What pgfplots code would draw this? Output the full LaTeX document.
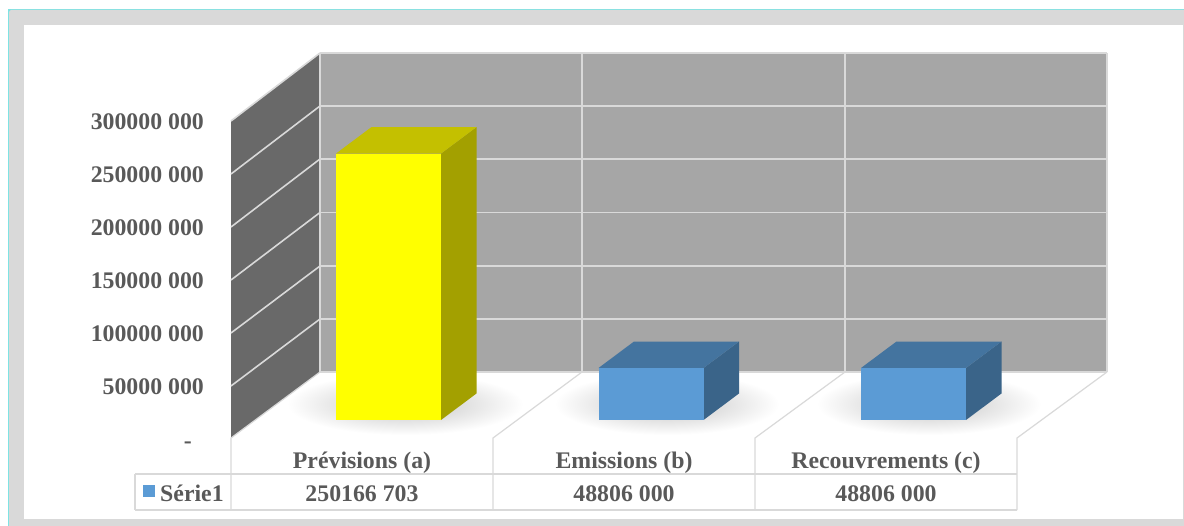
\documentclass[border=0pt]{standalone}
\usepackage{pgfplots}
\pgfplotsset{compat=1.18}
\usepackage{fontspec}
\setmainfont{Liberation Serif}
\definecolor{labelgrey}{HTML}{595959}
\definecolor{rule}{HTML}{D9D9D9}
\definecolor{backwall}{HTML}{A6A6A6}
\definecolor{sidewall}{HTML}{696969}
\definecolor{frameteal}{HTML}{7FE3E3}
\definecolor{yfront}{HTML}{FFFF00}
\definecolor{ytop}{HTML}{C4C000}
\definecolor{yside}{HTML}{A3A000}
\definecolor{bfront}{HTML}{5B9BD5}
\definecolor{btop}{HTML}{44749F}
\definecolor{bside}{HTML}{3A6489}
\pgfplotsset{
  canvas/.style={
    width=1184pt, height=526pt, scale only axis, axis lines=none,
    at={(0pt,0pt)}, anchor=south west, clip=false,
    xmin=0, xmax=1184
  },
  gridline/.style={rule, line width=1.6pt},
  floorline/.style={rule, line width=1.2pt},
  frontface/.style={ybar, bar width=105, bar shift=0pt, draw=none}
}
\tikzset{lab/.style={font=\fontsize{23.8}{26}\selectfont\bfseries, text=labelgrey, inner sep=0pt}}
\begin{document}
\begin{tikzpicture}
\useasboundingbox (0pt,0pt) rectangle (1184pt,526pt);
% Frame, walls, floor and the data table, in picture units with y pointing down
\begin{axis}[canvas, ymin=0, ymax=526, y dir=reverse]
  \addplot[fill=white, draw=none] coordinates {(0,0) (1184,0) (1184,526) (0,526)} -- cycle;
  \addplot[fill=frameteal, draw=none] coordinates {(8,9) (1184,9) (1184,526) (8,526)} -- cycle;
  \addplot[fill=rule, draw=none] coordinates {(11,10) (1184,10) (1184,526) (9,526) (9,12)} -- cycle;
  \addplot[fill=white, draw=none] coordinates {(24,25) (1183,25) (1183,519) (24,519)} -- cycle;
  % contact shadows on the floor
  \shade[inner color=black!24, outer color=white, draw=none] (axis cs:405,404) ellipse [x radius=118pt, y radius=31pt];
  \shade[inner color=black!24, outer color=white, draw=none] (axis cs:667,404) ellipse [x radius=112pt, y radius=31pt];
  \shade[inner color=black!24, outer color=white, draw=none] (axis cs:929,404) ellipse [x radius=112pt, y radius=31pt];
  % back and side walls
  \addplot[fill=backwall, draw=none] coordinates {(320,53) (1107,53) (1107,372) (320,372)} -- cycle;
  \addplot[fill=sidewall, draw=none] coordinates {(231,121) (320,53) (320,372) (231,438)} -- cycle;
  % gridlines on the back wall
  \addplot[gridline] coordinates {(320,53) (1107,53)};
  \addplot[gridline] coordinates {(320,106) (1107,106)};
  \addplot[gridline] coordinates {(320,159) (1107,159)};
  \addplot[gridline] coordinates {(320,212.5) (1107,212.5)};
  \addplot[gridline] coordinates {(320,266) (1107,266)};
  \addplot[gridline] coordinates {(320,319) (1107,319)};
  \addplot[gridline] coordinates {(320,372) (1107,372)};
  \addplot[gridline] coordinates {(320,53) (320,372)};
  \addplot[gridline] coordinates {(582,53) (582,372)};
  \addplot[gridline] coordinates {(845,53) (845,372)};
  \addplot[gridline] coordinates {(1107,53) (1107,372)};
  % gridlines on the side wall
  \addplot[gridline] coordinates {(231,121) (320,53)};
  \addplot[gridline] coordinates {(231,174) (320,106)};
  \addplot[gridline] coordinates {(231,227) (320,159)};
  \addplot[gridline] coordinates {(231,280) (320,212.5)};
  \addplot[gridline] coordinates {(231,333) (320,266)};
  \addplot[gridline] coordinates {(231,386) (320,319)};
  % floor divisions and table
  \addplot[floorline] coordinates {(320,372) (231,438) (231,510)};
  \addplot[floorline] coordinates {(582,372) (493,438) (493,510)};
  \addplot[floorline] coordinates {(845,372) (755,438) (755,510)};
  \addplot[floorline] coordinates {(1107,372) (1017,438) (1017,510)};
  \addplot[floorline] coordinates {(135,474) (1017,474)};
  \addplot[floorline] coordinates {(135,510) (1017,510)};
  \addplot[floorline] coordinates {(135,474) (135,510)};
  % value axis labels
  \node[lab, anchor=base east] at (axis cs:204,130) {300000 000};
  \node[lab, anchor=base east] at (axis cs:204,183) {250000 000};
  \node[lab, anchor=base east] at (axis cs:204,236) {200000 000};
  \node[lab, anchor=base east] at (axis cs:204,289) {150000 000};
  \node[lab, anchor=base east] at (axis cs:204,342) {100000 000};
  \node[lab, anchor=base east] at (axis cs:204,395) {50000 000};
  \node[lab, anchor=base east] at (axis cs:192,449) {-};
  % table text
  \node[lab, anchor=base] at (axis cs:362,469) {Prévisions (a)};
  \node[lab, anchor=base] at (axis cs:624,469) {Emissions (b)};
  \node[lab, anchor=base] at (axis cs:886,469) {Recouvrements (c)};
  \node[lab, anchor=base] at (axis cs:362,501) {250166 703};
  \node[lab, anchor=base] at (axis cs:624,501) {48806 000};
  \node[lab, anchor=base] at (axis cs:886,501) {48806 000};
  \node[lab, anchor=base west] at (axis cs:160,501) {Série1};
  \addplot[fill=bfront, draw=none] coordinates {(143,485) (155,485) (155,497) (143,497)} -- cycle;
\end{axis}
% The bars, on a value scale sharing the same canvas (26.5 px of depth = 24883000 units)
\begin{axis}[canvas, ymin=-99530000, ymax=394370000]
  \addplot[fill=yside, draw=none] coordinates {(441,0) (476.5,24883000) (476.5,275049703) (441,250166703)} -- cycle;
  \addplot[fill=ytop, draw=none] coordinates {(336,250166703) (441,250166703) (476.5,275049703) (371.5,275049703)} -- cycle;
  \addplot[frontface, fill=yfront] coordinates {(388.5,250166703)};
  \addplot[fill=bside, draw=none] coordinates {(703.5,0) (739,24883000) (739,73689000) (703.5,48806000)} -- cycle;
  \addplot[fill=btop, draw=none] coordinates {(598.5,48806000) (703.5,48806000) (739,73689000) (634,73689000)} -- cycle;
  \addplot[frontface, fill=bfront] coordinates {(651,48806000)};
  \addplot[fill=bside, draw=none] coordinates {(966,0) (1001.5,24883000) (1001.5,73689000) (966,48806000)} -- cycle;
  \addplot[fill=btop, draw=none] coordinates {(861,48806000) (966,48806000) (1001.5,73689000) (896.5,73689000)} -- cycle;
  \addplot[frontface, fill=bfront] coordinates {(913.5,48806000)};
\end{axis}
\end{tikzpicture}
\end{document}
